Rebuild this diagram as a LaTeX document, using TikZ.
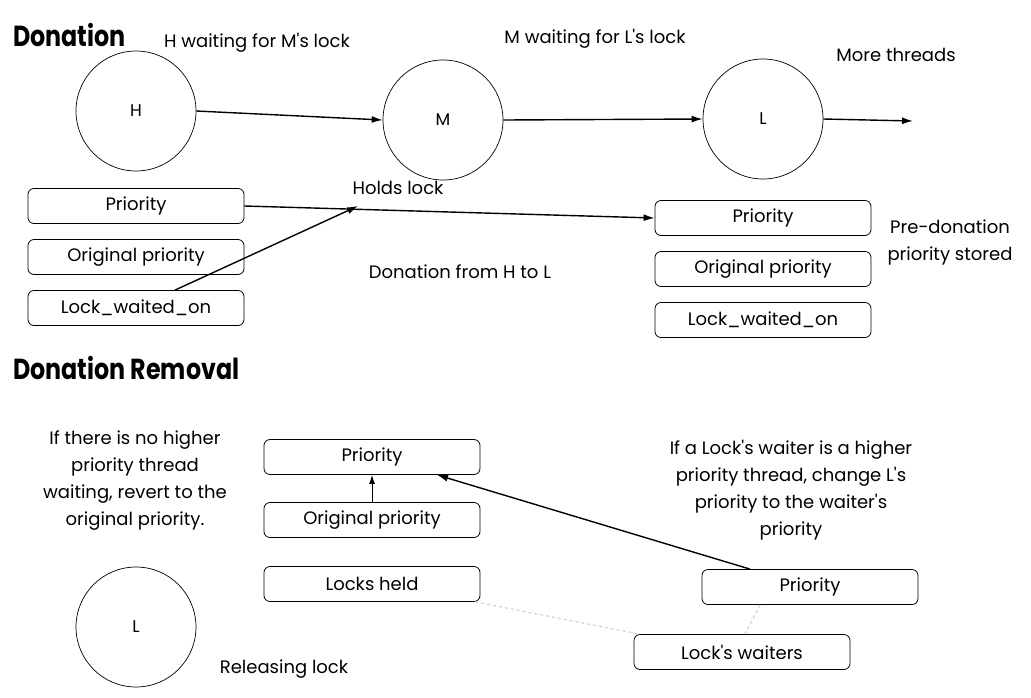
\documentclass[tikz,border=0pt]{standalone}
\usepackage{fontspec}
\newfontfamily\popfont{Poppins}
\usetikzlibrary{arrows.meta,calc}
\begin{document}
\begin{tikzpicture}[x=1pt,y=-1pt,
  txt/.style={font=\popfont\fontsize{18}{27}\selectfont, inner sep=0pt, align=center},
  head/.style={font=\popfont\fontsize{29}{30}\selectfont\bfseries, inner sep=0pt, anchor=west},
  thread/.style={circle, draw, line width=0.7pt, minimum size=120pt, inner sep=0pt, font=\popfont\fontsize{17}{20}\selectfont},
  field/.style={draw, rounded corners=6pt, line width=0.8pt, minimum width=216pt, minimum height=35pt, inner sep=0pt, font=\popfont\fontsize{18}{20}\selectfont},
  conn/.style={line width=1.4pt, -{Latex[length=11pt,width=7pt]}},
  faint/.style={draw=black!18, line width=1.2pt, dash pattern=on 3pt off 3pt}
]
\useasboundingbox (0,0) rectangle (1031,697);
% headings
\node[head] (h1) at (13,35) {\scalebox{0.82}[1]{Donation}};
\node[head] (h2) at (13,368) {\scalebox{0.82}[1]{Donation Removal}};
% top labels
\node[txt] (t1) at (257,43) {H waiting for M's lock};
\node[txt] (t2) at (595,39) {M waiting for L's lock};
\node[txt] (t3) at (896,55) {More threads};
\node[txt] (t4) at (398,188) {Holds lock};
\node[txt] (t5) at (460,272) {Donation from H to L};
\node[txt] (t6) at (950,242) {Pre-donation\\priority stored};
% threads
\node[thread] (H) at (136,111) {H};
\node[thread] (M) at (443,120) {M};
\node[thread] (L) at (763,119) {L};
\coordinate (more) at (913,121);
% left fields
\node[field] (lp) at (136,206) {Priority};
\node[field] (lo) at (136,257) {Original priority};
\node[field] (lw) at (136,308) {Lock\_waited\_on};
% right fields
\node[field] (rp) at (763,218) {Priority};
\node[field] (ro) at (763,269) {Original priority};
\node[field] (rw) at (763,320) {Lock\_waited\_on};
% arrows
\draw[conn] (H.east) -- (M.west);
\draw[conn] (M.east) -- (L.west);
\draw[conn] (L.east) -- (more);
\draw[conn] (lp.east) -- (rp.west);
\coordinate (hl) at (358,206);
\draw[conn] ($(lw.north)+(39,0)$) -- (hl);
% removal section
\node[txt] (b1) at (135,481) {If there is no higher\\priority thread\\waiting, revert to the\\original priority.};
\node[txt] (b2) at (791,490) {If a Lock's waiter is a higher\\priority thread, change L's\\priority to the waiter's\\priority};
\node[field] (bp) at (372,457) {Priority};
\node[field] (bo) at (372,520) {Original priority};
\node[field] (bl) at (372,584) {Locks held};
\node[field] (wp) at (810,587) {Priority};
\node[field] (ww) at (742,652) {Lock's waiters};
\node[thread] (L2) at (136,627) {L};
\node[txt] (b3) at (284,669) {Releasing lock};
\draw[line width=1pt, -{Latex[length=9pt,width=6pt]}] (bo.north) -- (bp.south);
\draw[conn] ($(wp.north)+(-60,0)$) -- ($(bp.south)+(65,0)$);
\draw[faint] ($(bl.south east)+(-5,0)$) -- ($(ww.north west)+(6,0)$);
\draw[faint] ($(wp.south)+(-50,0)$) -- ($(ww.north)+(3,0)$);
\end{tikzpicture}
\end{document}
